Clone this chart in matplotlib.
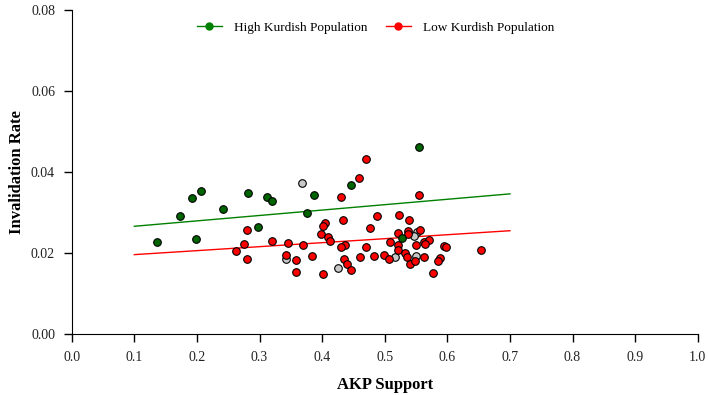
import numpy as np
import matplotlib.pyplot as plt
from matplotlib.lines import Line2D

plt.rcParams['font.family'] = ['Liberation Serif', 'DejaVu Serif']

# high Kurdish population provinces
high_x = [0.137, 0.1725, 0.1917, 0.206, 0.1986, 0.2417, 0.2816, 0.3126, 0.3195,
          0.3866, 0.3759, 0.2982, 0.4468, 0.5548, 0.5283]
high_y = [0.0226, 0.0292, 0.0336, 0.0352, 0.0235, 0.0309, 0.0347, 0.0339, 0.0329,
          0.0344, 0.0300, 0.0264, 0.0367, 0.0462, 0.0238]

# provinces not in either group
other_x = [0.3679, 0.343, 0.4254, 0.5522, 0.5474, 0.516, 0.55]
other_y = [0.0372, 0.0184, 0.0162, 0.0253, 0.0243, 0.0191, 0.0193]

# low Kurdish population provinces
low_x = [0.262, 0.2752, 0.2796, 0.2807, 0.3195, 0.3455, 0.343, 0.359, 0.3578, 0.3701,
         0.3845, 0.402, 0.4696, 0.459, 0.5548, 0.4297, 0.4046, 0.402, 0.4334, 0.4877,
         0.5235, 0.5395, 0.4772, 0.3989, 0.4101, 0.4126, 0.5208, 0.5379, 0.5559, 0.5367,
         0.5091, 0.5219, 0.5623, 0.5714, 0.5639, 0.55, 0.5954, 0.5974, 0.4366, 0.4308,
         0.4696, 0.5219, 0.5324, 0.4995, 0.4829, 0.4612, 0.5069, 0.5351, 0.5628, 0.435,
         0.4404, 0.4462, 0.5399, 0.5479, 0.5879, 0.5851, 0.5772, 0.6534]
low_y = [0.0206, 0.0223, 0.0258, 0.0184, 0.0230, 0.0224, 0.0195, 0.0183, 0.0152, 0.0221,
         0.0193, 0.0149, 0.0433, 0.0386, 0.0344, 0.0338, 0.0273, 0.0267, 0.0282, 0.0292,
         0.0293, 0.0282, 0.0261, 0.0248, 0.0239, 0.0229, 0.0250, 0.0254, 0.0258, 0.0246,
         0.0228, 0.0221, 0.0228, 0.0233, 0.0223, 0.0221, 0.0217, 0.0215, 0.0220, 0.0214,
         0.0215, 0.0208, 0.0201, 0.0196, 0.0193, 0.0191, 0.0186, 0.0189, 0.0191, 0.0185,
         0.0173, 0.0159, 0.0173, 0.0180, 0.0187, 0.0181, 0.0150, 0.0208]

# fitted lines (endpoints)
fit_x = [0.1, 0.7]
high_fit = [0.0266, 0.0346]
low_fit = [0.0196, 0.0255]

fig = plt.figure(figsize=(7.08, 3.95), dpi=100)
ax = fig.add_axes([0.1013, 0.1544, 0.8842, 0.8203])

ax.scatter(other_x, other_y, s=30, c='#c8c8c8', edgecolors='black', linewidths=0.8, zorder=3)
ax.scatter(low_x, low_y, s=30, c='#ff0000', edgecolors='black', linewidths=0.8, zorder=3)
ax.scatter(high_x, high_y, s=30, c='#006400', edgecolors='black', linewidths=0.8, zorder=3)

ax.plot(fit_x, high_fit, color='green', lw=1, zorder=2)
ax.plot(fit_x, low_fit, color='red', lw=1, zorder=2)

ax.set_xlim(0, 1)
ax.set_ylim(0, 0.08)
ax.set_xticks(np.arange(0, 1.01, 0.1))
ax.set_yticks([0, 0.02, 0.04, 0.06, 0.08])
ax.xaxis.set_major_formatter(plt.FormatStrFormatter('%.1f'))
ax.yaxis.set_major_formatter(plt.FormatStrFormatter('%.2f'))
ax.tick_params(labelsize=10, length=6, width=1, colors='black', labelcolor='#222222', pad=6)

for s in ['top', 'right']:
    ax.spines[s].set_visible(False)

ax.set_xlabel('AKP Support', fontsize=12, fontweight='bold', va='center')
ax.set_ylabel('Invalidation Rate', fontsize=12, fontweight='bold', va='center')
ax.xaxis.set_label_coords(0.5, -0.157)
ax.yaxis.set_label_coords(-0.087, 0.5)

handles = [Line2D([0], [0], color='green', lw=1, marker='o', markersize=5,
                  markerfacecolor='green', markeredgecolor='green'),
           Line2D([0], [0], color='red', lw=1, marker='o', markersize=5,
                  markerfacecolor='red', markeredgecolor='red')]
ax.legend(handles, ['High Kurdish Population', 'Low Kurdish Population'],
          loc='upper center', bbox_to_anchor=(0.485, 1.0), ncol=2, frameon=False,
          fontsize=9.5, handlelength=1.9, handletextpad=0.9, columnspacing=1.4)

plt.savefig('out.png')
